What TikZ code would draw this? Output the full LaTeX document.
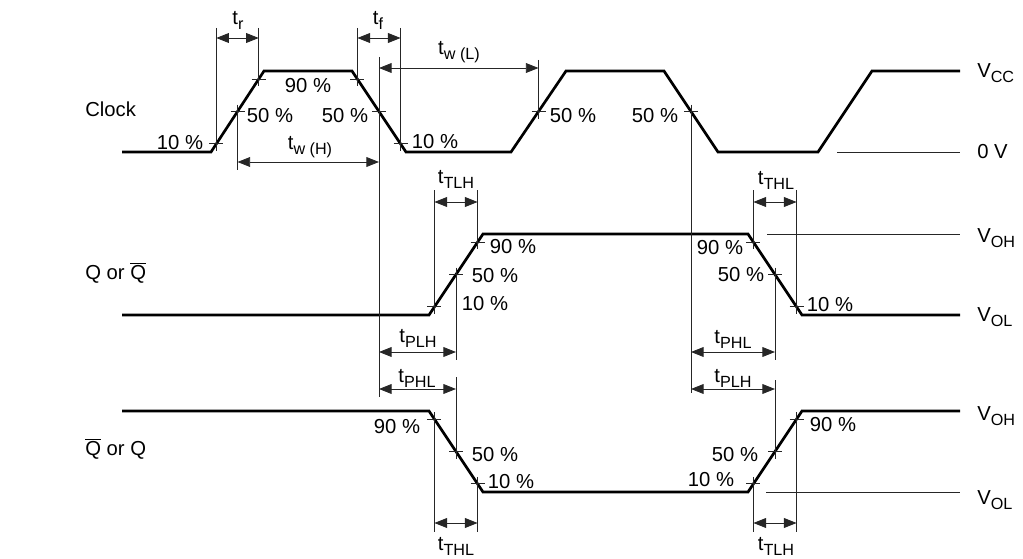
\documentclass[tikz,border=0pt]{standalone}
\usepackage{fontspec}
\setmainfont{Liberation Sans}
\usetikzlibrary{arrows.meta,calc}
\newcommand\Qbar{$\overline{\mbox{Q}}$}
\newcommand\sub[1]{\raisebox{-3.6pt}{\fontsize{11.5}{13}\selectfont #1}}
\tikzset{
  wave/.style={line width=1.9pt},
  guide/.style={line width=0.6pt,black!85},
  dim/.style={guide,{Triangle[length=9pt,width=7pt]}-{Triangle[length=9pt,width=7pt]}},
  lbl/.style={font=\fontsize{14.4}{17}\selectfont,inner sep=0pt}
}
\begin{document}
\begin{tikzpicture}[x=0.025cm,y=-0.025cm]
  \useasboundingbox (0,0) rectangle (1023,558);
  % clock
  \coordinate (ck1) at (211,152); \coordinate (ck2) at (264,71);
  \coordinate (ck3) at (352,71);  \coordinate (ck4) at (406,152);
  \coordinate (ck5) at (511,152); \coordinate (ck6) at (566,71);
  \coordinate (ck7) at (664,71);  \coordinate (ck8) at (718,152);
  \draw[wave] (122,152) -- (ck1) -- (ck2) -- (ck3) -- (ck4) -- (ck5) -- (ck6)
    -- (ck7) -- (ck8) -- (818,152) -- (872,71) -- (960,71);
  \draw[guide] (837,152) -- (960,152);
  \coordinate (ckA) at ($(ck1)!.1!(ck2)$);
  \coordinate (ckB) at ($(ck1)!.5!(ck2)$);
  \coordinate (ckC) at ($(ck1)!.9!(ck2)$);
  \coordinate (ckD) at ($(ck3)!.1!(ck4)$);
  \coordinate (ckE) at ($(ck3)!.5!(ck4)$);
  \coordinate (ckF) at ($(ck3)!.9!(ck4)$);
  \coordinate (ckG) at ($(ck5)!.5!(ck6)$);
  \coordinate (ckH) at ($(ck7)!.5!(ck8)$);
  % Q
  \coordinate (q1) at (429,315); \coordinate (q2) at (483,234);
  \coordinate (q3) at (748,234); \coordinate (q4) at (802,315);
  \draw[wave] (122,315) -- (q1) -- (q2) -- (q3) -- (q4) -- (960,315);
  \draw[guide] (767,234) -- (960,234);
  \coordinate (qA) at ($(q1)!.1!(q2)$);
  \coordinate (qB) at ($(q1)!.5!(q2)$);
  \coordinate (qC) at ($(q1)!.9!(q2)$);
  \coordinate (qD) at ($(q3)!.1!(q4)$);
  \coordinate (qE) at ($(q3)!.5!(q4)$);
  \coordinate (qF) at ($(q3)!.9!(q4)$);
  % Q bar
  \coordinate (n1) at (429,411); \coordinate (n2) at (483,492);
  \coordinate (n3) at (748,492); \coordinate (n4) at (802,411);
  \draw[wave] (122,411) -- (n1) -- (n2) -- (n3) -- (n4) -- (960,411);
  \draw[guide] (766,492) -- (960,492);
  \coordinate (nA) at ($(n1)!.1!(n2)$);
  \coordinate (nB) at ($(n1)!.5!(n2)$);
  \coordinate (nC) at ($(n1)!.9!(n2)$);
  \coordinate (nD) at ($(n3)!.1!(n4)$);
  \coordinate (nE) at ($(n3)!.5!(n4)$);
  \coordinate (nF) at ($(n3)!.9!(n4)$);
  % ticks
  \foreach \p in {ckA,ckB,ckC,ckD,ckE,ckF,ckG,ckH,qA,qB,qC,qD,qE,qF,nA,nB,nC,nD,nE,nF}
    \draw[guide] (\p) ++(-7,0) -- ++(14,0) (\p) ++(0,-7) -- ++(0,14);
  % extension lines
  \draw[guide] (ckA |- 0,28) -- (ckA) (ckC |- 0,28) -- (ckC)
    (ckB) -- (ckB |- 0,170) (ckD |- 0,28) -- (ckD) (ckF |- 0,28) -- (ckF)
    (ckE |- 0,57) -- (ckE |- 0,397) (ckG |- 0,60) -- (ckG) (ckH) -- (ckH |- 0,393);
  \draw[guide] (qA |- 0,190) -- (qA) (qC |- 0,190) -- (qC)
    (qB) -- (qB |- 0,360) (qB |- 0,377) -- (nB)
    (qD |- 0,190) -- (qD) (qF |- 0,190) -- (qF)
    (qE) -- (qE |- 0,360) (qE |- 0,380) -- (nE);
  \draw[guide] (nA) -- (nA |- 0,532) (nC) -- (nC |- 0,532)
    (nD) -- (nD |- 0,532) (nF) -- (nF |- 0,532);
  % dimensions
  \draw[dim] (ckA |- 0,38) -- (ckC |- 0,38);
  \draw[dim] (ckD |- 0,38) -- (ckF |- 0,38);
  \draw[dim] (ckB |- 0,162) -- (ckE |- 0,162);
  \draw[dim] (ckE |- 0,68) -- (ckG |- 0,68);
  \draw[dim] (qA |- 0,202) -- (qC |- 0,202);
  \draw[dim] (qD |- 0,202) -- (qF |- 0,202);
  \draw[dim] (ckE |- 0,352) -- (qB |- 0,352);
  \draw[dim] (ckE |- 0,389) -- (nB |- 0,389);
  \draw[dim] (ckH |- 0,352) -- (qE |- 0,352);
  \draw[dim] (ckH |- 0,389) -- (nE |- 0,389);
  \draw[dim] (nA |- 0,523) -- (nC |- 0,523);
  \draw[dim] (nD |- 0,523) -- (nF |- 0,523);
  % labels
  \node[lbl,anchor=west] (lclk) at (85,109) {Clock};
  \node[lbl,anchor=west] (lq) at (85,273) {Q or \Qbar};
  \node[lbl,anchor=west] (lnq) at (85,449) {\Qbar{} or Q};
  \node[lbl,anchor=west] (lvcc) at (977,73) {V\sub{CC}};
  \node[lbl,anchor=west] (l0v) at (977,152) {0 V};
  \node[lbl,anchor=west] (lvoh1) at (977,238) {V\sub{OH}};
  \node[lbl,anchor=west] (lvol1) at (977,317) {V\sub{OL}};
  \node[lbl,anchor=west] (lvoh2) at (977,416) {V\sub{OH}};
  \node[lbl,anchor=west] (lvol2) at (977,500) {V\sub{OL}};
  \node[lbl] (ltr) at (238,20) {t\sub{r}};
  \node[lbl] (ltf) at (378,20) {t\sub{f}};
  \node[lbl] (ltwh) at (310,147) {t\sub{w (H)}};
  \node[lbl] (ltwl) at (459,52) {t\sub{w (L)}};
  \node[lbl] (ltlh1) at (456,179) {t\sub{TLH}};
  \node[lbl] (lthl1) at (776,180) {t\sub{THL}};
  \node[lbl] (lplh1) at (418,338) {t\sub{PLH}};
  \node[lbl] (lphl1) at (417,378) {t\sub{PHL}};
  \node[lbl] (lphl2) at (733,339) {t\sub{PHL}};
  \node[lbl] (lplh2) at (733,378) {t\sub{PLH}};
  \node[lbl] (lthl2) at (456,546) {t\sub{THL}};
  \node[lbl] (ltlh2) at (776,546) {t\sub{TLH}};
  \node[lbl] (p1) at (180,143) {10 \%};
  \node[lbl] (p2) at (270,116) {50 \%};
  \node[lbl] (p3) at (308,86) {90 \%};
  \node[lbl] (p4) at (345,116) {50 \%};
  \node[lbl] (p5) at (435,142) {10 \%};
  \node[lbl] (p6) at (573,116) {50 \%};
  \node[lbl] (p7) at (655,116) {50 \%};
  \node[lbl] (p8) at (513,247) {90 \%};
  \node[lbl] (p9) at (495,276) {50 \%};
  \node[lbl] (p10) at (485,304) {10 \%};
  \node[lbl] (p11) at (720,248) {90 \%};
  \node[lbl] (p12) at (741,275) {50 \%};
  \node[lbl] (p13) at (830,305) {10 \%};
  \node[lbl] (p14) at (397,427) {90 \%};
  \node[lbl] (p15) at (495,455) {50 \%};
  \node[lbl] (p16) at (511,482) {10 \%};
  \node[lbl] (p17) at (711,480) {10 \%};
  \node[lbl] (p18) at (735,455) {50 \%};
  \node[lbl] (p19) at (833,425) {90 \%};
\end{tikzpicture}
\end{document}
